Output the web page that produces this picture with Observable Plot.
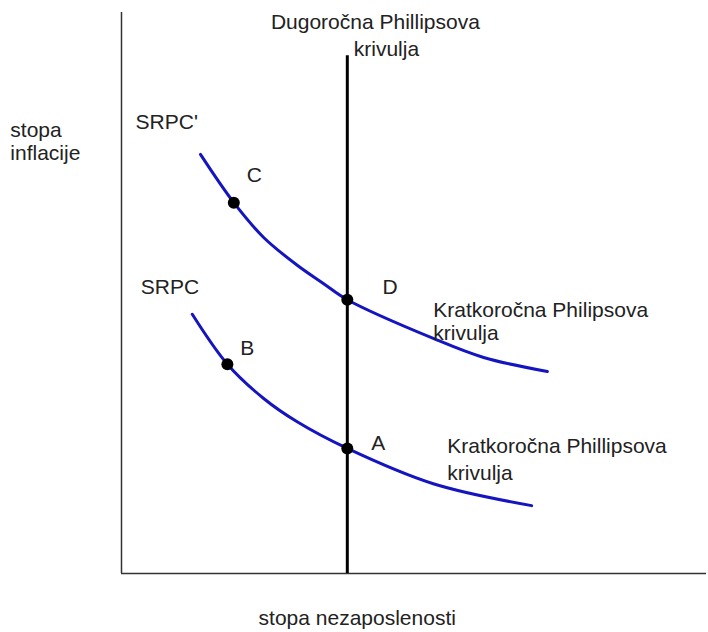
<!DOCTYPE html>
<html>
<head>
<meta charset="utf-8">
<script src="https://cdn.jsdelivr.net/npm/d3@7"></script>
<script src="https://cdn.jsdelivr.net/npm/@observablehq/plot@0.6"></script>
<style>
  html, body { margin: 0; padding: 0; background: #fff; }
  svg { display: block; }
</style>
</head>
<body>
<div id="chart"></div>
<script>
// Short-run Phillips curves (x = unemployment, y = inflation), abstract units
const upperX = [1.35, 1.92, 2.43, 3.01, 3.45, 3.86, 5.33, 6.19, 7.28];
const upperY = [7.47, 6.61, 5.99, 5.49, 5.17, 4.88, 4.19, 3.85, 3.60];
const lowerX = [1.21, 1.81, 2.43, 3.01, 3.86, 5.33, 7.01];
const lowerY = [4.62, 3.73, 3.12, 2.70, 2.23, 1.60, 1.21];

// Long-run Phillips curve
const lrpcX = 3.86;
const lrpcTop = 9.23;

// Marked points
const pointNames = ["C", "D", "B", "A"];
const pointX = [1.92, 3.86, 1.81, 3.86];
const pointY = [6.61, 4.88, 3.73, 2.23];

// Text labels
const labelText = ["C", "D", "B", "A", "SRPC'", "SRPC",
  "Kratkoročna Philipsova", "krivulja",
  "Kratkoročna Phillipsova", "krivulja",
  "krivulja", "stopa", "inflacije"];
const labelX = [2.14, 4.46, 2.03, 4.27, 0.24, 0.33, 5.33, 5.33, 5.57, 5.57, 3.97, -1.90, -1.90];
const labelY = [7.09, 5.10, 4.01, 2.32, 8.04, 5.10, 4.69, 4.28, 2.26, 1.78, 9.34, 7.90, 7.49];

const centerText = ["Dugoročna Phillipsova", "stopa nezaposlenosti"];
const centerX = [4.34, 4.03];
const centerY = [9.82, -0.80];

const upper = upperX.map((x, i) => ({x, y: upperY[i]}));
const lower = lowerX.map((x, i) => ({x, y: lowerY[i]}));
const points = pointNames.map((n, i) => ({n, x: pointX[i], y: pointY[i]}));
const labels = labelText.map((t, i) => ({t, x: labelX[i], y: labelY[i]}));
const centers = centerText.map((t, i) => ({t, x: centerX[i], y: centerY[i]}));

const font = "Liberation Sans, Arial, sans-serif";
const blue = "#1414c0";

const chart = Plot.plot({
  width: 708,
  height: 632,
  margin: 0,
  style: {fontFamily: font, background: "#fff"},
  x: {domain: [0, 10], range: [121, 706], axis: null},
  y: {domain: [0, 10], range: [573, 12], axis: null},
  marks: [
    Plot.ruleX([0], {y1: 0, y2: 10, stroke: "#333", strokeWidth: 1.5}),
    Plot.ruleY([0], {x1: 0, x2: 10, stroke: "#333", strokeWidth: 1.5}),
    Plot.ruleX([lrpcX], {y1: 0, y2: lrpcTop, stroke: "#000", strokeWidth: 3}),
    Plot.line(upper, {x: "x", y: "y", curve: "catmull-rom", stroke: blue, strokeWidth: 3}),
    Plot.line(lower, {x: "x", y: "y", curve: "catmull-rom", stroke: blue, strokeWidth: 3}),
    Plot.dot(points, {x: "x", y: "y", r: 6, fill: "#000", stroke: "none"}),
    Plot.text(labels, {x: "x", y: "y", text: "t", textAnchor: "start", lineAnchor: "middle",
      fontSize: 21, fill: "#222"}),
    Plot.text(centers, {x: "x", y: "y", text: "t", textAnchor: "middle", lineAnchor: "middle",
      fontSize: 21, fill: "#222"})
  ]
});
document.getElementById("chart").appendChild(chart);
</script>
</body>
</html>
